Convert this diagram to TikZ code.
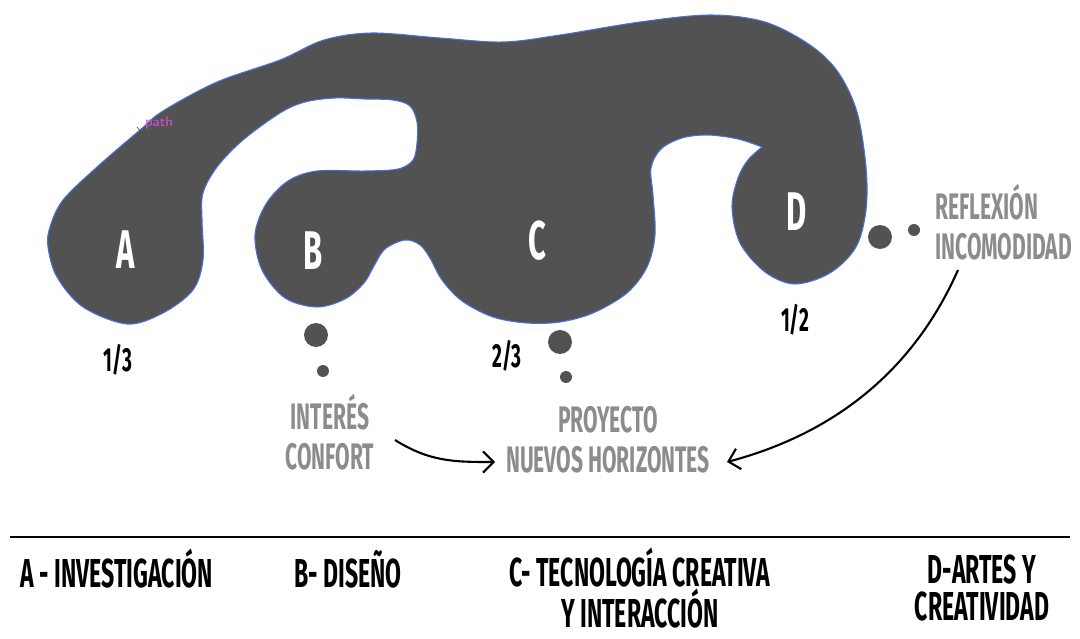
\documentclass[tikz,border=0pt]{standalone}
\usepackage{fontspec}
\usepackage{tikz}
\usetikzlibrary{arrows.meta}
\newfontfamily\condfont{Fira Sans}[FakeStretch=0.57]
\definecolor{blobgray}{HTML}{525252}
\definecolor{textgray}{HTML}{8C8C8C}
\definecolor{edgeblue}{HTML}{4A6FE0}
\definecolor{pathpink}{HTML}{D94FD9}

\begin{document}
\begin{tikzpicture}[x=0.02cm,y=-0.02cm]
          \tikzset{
            Blob/.style = {fill=blobgray, draw=edgeblue, line width=0.6pt},
            LobeLabel/.style = {text=white, font=\condfont\bfseries\fontsize{31}{31}\selectfont, inner sep=0pt},
            Fraction/.style = {text=black, font=\condfont\bfseries\fontsize{19}{19}\selectfont, inner sep=0pt},
            Note/.style = {text=textgray, inner sep=0pt,
              font=\condfont\bfseries\fontsize{21}{23}\selectfont},
            Legend/.style = {text=black, align=center, inner sep=0pt,
              font=\condfont\bfseries\fontsize{23}{21.5}\selectfont},
            BigDot/.style = {circle, fill=blobgray, inner sep=0pt, minimum size=0.48cm},
            SmallDot/.style = {circle, fill=blobgray, inner sep=0pt, minimum size=0.24cm},
            Flow/.style = {line width=1.2pt, -{Straight Barb[length=6pt,width=12pt]}}}
          \useasboundingbox (0,0) rectangle (1080,639);
          %% the blob, starting at the tip of the hook above D
          \draw[Blob] plot[smooth, tension=0.55] coordinates {
            (762,147) (748,160) (738,178) (732,207) (740,243) (765,272)
            (795,284) (830,273) (856,247) (866,210) (866,167) (857,112)
            (838,72) (810,45) (765,22) (710,15) (640,22) (560,35)
            (503,42) (440,38) (372,33) (324,40) (280,60) (217,82)
            (163,111) (140,130) (97,167) (63,200) (50,227) (48,247)
            (57,277) (83,307) (127,324) (163,313) (193,290) (203,260)
            (202,220) (203,193) (217,167) (243,140) (280,113) (305,102)
            (335,98) (365,99) (393,100) (410,106) (417,122) (417,143)
            (413,160) (398,169) (365,171) (317,171) (288,181) (266,204)
            (255,235) (262,270) (285,298) (317,307) (345,299) (364,283)
            (374,266) (385,249) (405,240) (420,245) (430,258) (442,280)
            (462,301) (493,317) (527,323) (560,322) (593,313) (627,293)
            (647,267) (655,235) (653,195) (651,168) (661,149) (682,138)
            (708,135) (738,139) (762,147)} -- cycle;
          \node[pathpink, font=\sffamily\fontsize{8}{8}\selectfont, inner sep=0pt] (pathtag) at (159,123) {path};
          \draw[black!70, line width=0.4pt] (137,127) -- (142,133);
          %% lobe letters
          \node[LobeLabel] (A) at (126,250) {A};
          \node[LobeLabel] (B) at (313,251) {B};
          \node[LobeLabel] (C) at (537,241) {C};
          \node[LobeLabel] (D) at (797,212) {D};
          \node[Fraction] (fracA) at (118,360) {1/3};
          \node[Fraction] (fracC) at (507,356) {2/3};
          \node[Fraction] (fracD) at (795,320) {1/2};
          %% dots
          \node[BigDot] (dotB1) at (316,335) {};
          \node[SmallDot] (dotB2) at (323,371) {};
          \node[BigDot] (dotC1) at (560,342) {};
          \node[SmallDot] (dotC2) at (566,377) {};
          \node[BigDot] (dotD1) at (880,237) {};
          \node[SmallDot] (dotD2) at (914,230) {};
          %% notes
          \node[Note, align=center] (interes) at (330,432) {INTERÉS\\CONFORT};
          \node[Note, align=center] (proyecto) at (608,440) {PROYECTO\\NUEVOS HORIZONTES};
          \node[Note, align=left, anchor=west] (reflexion) at (935,222) {REFLEXIÓN\\INCOMODIDAD};
          \coordinate (interesout) at (395,440);
          \coordinate (proyectoin) at (495,462);
          \coordinate (reflexionout) at (958,270);
          \coordinate (proyectoright) at (727,462);
          \draw[Flow] (interesout) .. controls (430,462) and (455,462) .. (proyectoin);
          \draw[Flow] (reflexionout) .. controls (905,390) and (810,440) .. (proyectoright);
          %% legend
          \draw[line width=1.7pt] (10,537) -- (1070,537);
          \node[Legend] (legA) at (117,569) {A - INVESTIGACIÓN};
          \node[Legend] (legB) at (348,569) {B- DISEÑO};
          \node[Legend] (legC) at (640,588) {C- TECNOLOGÍA CREATIVA\\Y INTERACCIÓN};
          \node[Legend] (legD) at (982,588) {D-ARTES Y\\CREATIVIDAD};
        \end{tikzpicture}
\end{document}
